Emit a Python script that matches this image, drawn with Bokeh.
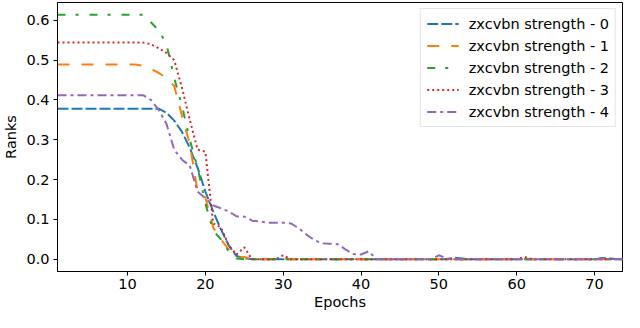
from bokeh.plotting import figure
from bokeh.models import Range1d, FixedTicker, PrintfTickFormatter, Legend
from bokeh.embed import file_html
from bokeh.resources import INLINE

epochs = list(range(1, 75))

strength_0 = [0.378, 0.378, 0.378, 0.378, 0.378, 0.378, 0.378, 0.378, 0.378, 0.378,
              0.378, 0.378, 0.378, 0.378, 0.368, 0.348, 0.320, 0.280, 0.230, 0.170,
              0.120, 0.075, 0.035, 0.008, 0.003, 0.0, 0.0, 0.0, 0.0, 0.0,
              0.0, 0.0, 0.0, 0.0, 0.0, 0.0, 0.0, 0.0, 0.0, 0.0,
              0.0, 0.0, 0.0, 0.0, 0.0, 0.0, 0.0, 0.0, 0.0, 0.0,
              0.0, 0.004, 0.002, 0.0, 0.0, 0.0, 0.0, 0.0, 0.0, 0.0,
              0.0, 0.0, 0.0, 0.0, 0.0, 0.0, 0.0, 0.0, 0.0, 0.0,
              0.003, 0.002, 0.0, 0.0]

strength_1 = [0.489, 0.489, 0.489, 0.489, 0.489, 0.489, 0.489, 0.489, 0.489, 0.489,
              0.489, 0.486, 0.478, 0.468, 0.455, 0.435, 0.360, 0.290, 0.170, 0.155,
              0.080, 0.050, 0.025, 0.003, 0.006, 0.0, 0.0, 0.0, 0.0, 0.002,
              0.0, 0.0, 0.0, 0.0, 0.0, 0.0, 0.0, 0.0, 0.0, 0.0,
              0.0, 0.0, 0.0, 0.0, 0.0, 0.0, 0.0, 0.0, 0.0, 0.0,
              0.0, 0.0, 0.0, 0.0, 0.0, 0.0, 0.0, 0.0, 0.0, 0.0,
              0.002, 0.0, 0.0, 0.0, 0.0, 0.0, 0.0, 0.0, 0.0, 0.0,
              0.0, 0.0, 0.0, 0.0]

strength_2 = [0.614, 0.614, 0.614, 0.614, 0.614, 0.614, 0.614, 0.614, 0.614, 0.614,
              0.614, 0.614, 0.595, 0.575, 0.540, 0.455, 0.385, 0.300, 0.230, 0.140,
              0.072, 0.050, 0.020, 0.002, 0.0, 0.0, 0.0, 0.0, 0.0, 0.0,
              0.0, 0.0, 0.0, 0.0, 0.0, 0.0, 0.0, 0.0, 0.0, 0.0,
              0.0, 0.0, 0.0, 0.0, 0.0, 0.0, 0.0, 0.0, 0.0, 0.0,
              0.0, 0.0, 0.0, 0.0, 0.0, 0.0, 0.0, 0.0, 0.0, 0.0,
              0.0, 0.0, 0.0, 0.0, 0.0, 0.0, 0.0, 0.0, 0.0, 0.0,
              0.0, 0.0, 0.0, 0.0]

strength_3 = [0.544, 0.544, 0.544, 0.544, 0.544, 0.544, 0.544, 0.544, 0.544, 0.544,
              0.544, 0.544, 0.540, 0.530, 0.518, 0.500, 0.430, 0.350, 0.275, 0.270,
              0.090, 0.080, 0.035, 0.012, 0.030, 0.0, 0.0, 0.0, 0.0, 0.010,
              0.0, 0.0, 0.0, 0.0, 0.0, 0.0, 0.0, 0.0, 0.0, 0.0,
              0.0, 0.0, 0.0, 0.0, 0.0, 0.0, 0.0, 0.0, 0.0, 0.0,
              0.0, 0.0, 0.0, 0.0, 0.0, 0.0, 0.0, 0.0, 0.0, 0.0,
              0.006, 0.0, 0.0, 0.0, 0.0, 0.0, 0.0, 0.0, 0.0, 0.0,
              0.0, 0.0, 0.0, 0.0]

strength_4 = [0.412, 0.412, 0.412, 0.412, 0.412, 0.412, 0.412, 0.412, 0.412, 0.412,
              0.412, 0.412, 0.400, 0.375, 0.340, 0.275, 0.250, 0.235, 0.170, 0.153,
              0.135, 0.128, 0.120, 0.108, 0.107, 0.097, 0.095, 0.092, 0.092, 0.092,
              0.090, 0.078, 0.062, 0.048, 0.040, 0.039, 0.038, 0.025, 0.013, 0.012,
              0.020, 0.0, 0.0, 0.0, 0.0, 0.0, 0.0, 0.0, 0.0, 0.010,
              0.002, 0.0, 0.0, 0.0, 0.0, 0.0, 0.0, 0.0, 0.0, 0.0,
              0.0, 0.0, 0.0, 0.0, 0.0, 0.0, 0.0, 0.0, 0.0, 0.0,
              0.0, 0.0, 0.0, 0.0]

series = [strength_0, strength_1, strength_2, strength_3, strength_4]
labels = ["zxcvbn strength - 0", "zxcvbn strength - 1", "zxcvbn strength - 2",
          "zxcvbn strength - 3", "zxcvbn strength - 4"]
colors = ["#1f77b4", "#ff7f0e", "#2ca02c", "#d62728", "#9467bd"]
dashes = ["11 3", "12 12", "8 10 3 11", "2 3", "9 4 3 4"]

x_ticks = [10, 20, 30, 40, 50, 60, 70]
y_ticks = [0.0, 0.1, 0.2, 0.3, 0.4, 0.5, 0.6]

FONT = "DejaVu Sans"
FS = "14.5px"

p = figure(width=624, height=312, output_backend="svg", toolbar_location=None,
           x_range=Range1d(1, 73.6), y_range=Range1d(-0.0307, 0.6447),
           min_border_left=49, min_border_right=2, min_border_top=2,
           min_border_bottom=40)

renderers = []
for ys, lab, col, dash in zip(series, labels, colors, dashes):
    r = p.line(epochs, ys, line_color=col, line_width=2, line_dash=dash)
    renderers.append((lab, [r]))

legend = Legend(items=renderers, location="top_right")
legend.label_text_font = FONT
legend.label_text_font_size = FS
legend.label_text_color = "black"
legend.glyph_width = 32
legend.glyph_height = 17
legend.label_height = 17
legend.spacing = 5
legend.padding = 6
legend.margin = 6
legend.label_standoff = 10
legend.border_line_color = "#cccccc"
legend.border_line_width = 1
legend.background_fill_alpha = 0.9
p.add_layout(legend)

p.xgrid.visible = False
p.ygrid.visible = False
p.outline_line_color = "black"
p.outline_line_width = 1
p.outline_line_alpha = 1

p.xaxis.ticker = FixedTicker(ticks=x_ticks)
p.yaxis.ticker = FixedTicker(ticks=y_ticks)
p.yaxis.formatter = PrintfTickFormatter(format="%.1f")

for ax in (p.xaxis[0], p.yaxis[0]):
    ax.axis_line_color = "black"
    ax.major_tick_line_color = "black"
    ax.major_tick_out = 4
    ax.major_tick_in = 0
    ax.minor_tick_line_color = None
    ax.major_label_text_font = FONT
    ax.major_label_text_font_size = FS
    ax.major_label_text_color = "black"
    ax.axis_label_text_font = FONT
    ax.axis_label_text_font_size = FS
    ax.axis_label_text_font_style = "normal"
    ax.axis_label_text_color = "black"

p.xaxis.axis_label = "Epochs"
p.yaxis.axis_label = "Ranks"
p.xaxis.axis_label_standoff = 2
p.yaxis.axis_label_standoff = 4
p.xaxis.major_label_standoff = 3
p.yaxis.major_label_standoff = 4

open("out.html", "w").write(file_html(p, INLINE))
